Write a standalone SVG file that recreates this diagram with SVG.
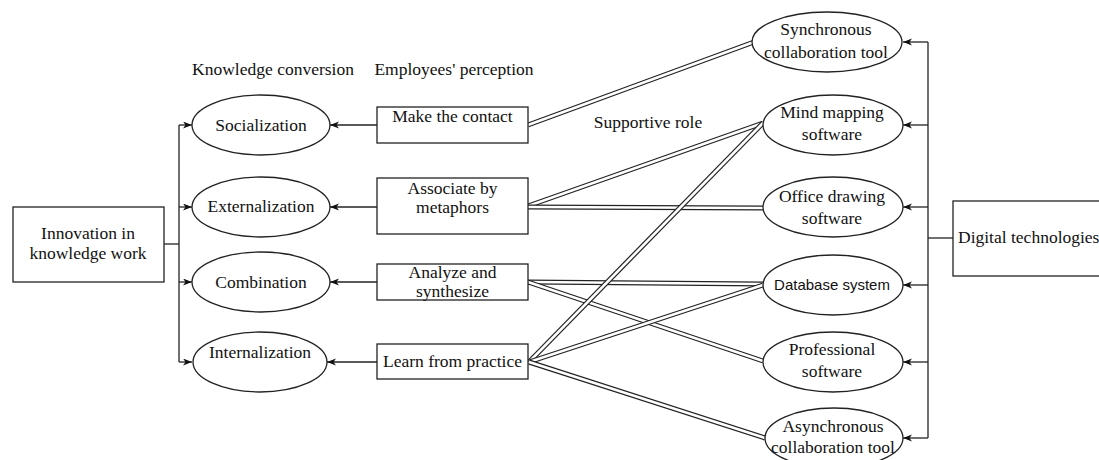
<svg xmlns="http://www.w3.org/2000/svg" width="1099" height="460" viewBox="0 0 1099 460">
<style>
.s{fill:#fff;stroke:#222;stroke-width:1.3}
.c{fill:none;stroke:#222;stroke-width:1.3}
.t{font-family:"Liberation Serif","Times New Roman",serif;font-size:17.5px;fill:#111;text-anchor:middle}
.ts{font-family:"Liberation Sans",Arial,sans-serif;font-size:15px;fill:#111;text-anchor:middle}
.dlo{fill:none;stroke:#222;stroke-width:5}
.dli{fill:none;stroke:#fff;stroke-width:2.6}
</style>
<defs>
<marker id="a" markerUnits="userSpaceOnUse" markerWidth="10" markerHeight="8" refX="9" refY="3.5" orient="auto">
<path d="M0,0 L9,3.5 L0,7 L2.5,3.5 Z" fill="#111"/>
</marker>
</defs>
<rect width="1099" height="460" fill="#fff"/>

<g id="labels">
<text class="t" x="273" y="75">Knowledge conversion</text>
<text class="t" x="454" y="75">Employees' perception</text>
<text class="t" x="648" y="128">Supportive role</text>
</g>

<g id="connectors">
<path class="c" d="M164,244 H179"/>
<path class="c" d="M179,125 V362"/>
<path class="c" d="M179,125 H192" marker-end="url(#a)"/>
<path class="c" d="M179,207 H192" marker-end="url(#a)"/>
<path class="c" d="M179,282 H192" marker-end="url(#a)"/>
<path class="c" d="M179,362 H192" marker-end="url(#a)"/>
<path class="c" d="M377,125 H330" marker-end="url(#a)"/>
<path class="c" d="M377,207 H330" marker-end="url(#a)"/>
<path class="c" d="M377,282 H330" marker-end="url(#a)"/>
<path class="c" d="M377,362 H327" marker-end="url(#a)"/>
<path class="c" d="M953,238 H928"/>
<path class="c" d="M928,42 V438"/>
<path class="c" d="M928,42 H903" marker-end="url(#a)"/>
<path class="c" d="M928,125 H903" marker-end="url(#a)"/>
<path class="c" d="M928,207 H903" marker-end="url(#a)"/>
<path class="c" d="M928,285 H903" marker-end="url(#a)"/>
<path class="c" d="M928,362 H903" marker-end="url(#a)"/>
<path class="c" d="M928,438 H903" marker-end="url(#a)"/>
<g id="links">
<path class="dlo" d="M528,125 L754,42"/><path class="dli" d="M528,125 L754,42"/>
<path class="dlo" d="M528,206 L763,123"/><path class="dli" d="M528,206 L763,123"/>
<path class="dlo" d="M528,207 L763,208"/><path class="dli" d="M528,207 L763,208"/>
<path class="dlo" d="M528,282 L763,284"/><path class="dli" d="M528,282 L763,284"/>
<path class="dlo" d="M528,282 L763,361"/><path class="dli" d="M528,282 L763,361"/>
<path class="dlo" d="M529,362 L763,123"/><path class="dli" d="M529,362 L763,123"/>
<path class="dlo" d="M529,362 L763,285"/><path class="dli" d="M529,362 L763,285"/>
<path class="dlo" d="M529,362 L765,438"/><path class="dli" d="M529,362 L765,438"/>
</g>
</g>

<g id="innovation">
<rect class="s" x="13" y="207" width="151" height="75"/>
<text class="t" x="88" y="239">Innovation in</text>
<text class="t" x="88" y="259">knowledge work</text>
</g>

<g id="socialization"><ellipse class="s" cx="261" cy="125" rx="69" ry="30"/><text class="t" x="261" y="131">Socialization</text></g>
<g id="externalization"><ellipse class="s" cx="261" cy="207" rx="69" ry="30"/><text class="t" x="261" y="212">Externalization</text></g>
<g id="combination"><ellipse class="s" cx="261" cy="282" rx="69" ry="30"/><text class="t" x="261" y="288">Combination</text></g>
<g id="internalization"><ellipse class="s" cx="260" cy="362" rx="67" ry="30"/><text class="t" x="260" y="358">Internalization</text></g>

<g id="make-contact"><rect class="s" x="377" y="107" width="151" height="36"/><text class="t" x="452.5" y="122">Make the contact</text></g>
<g id="associate"><rect class="s" x="377" y="178" width="151" height="56"/><text class="t" x="452.5" y="194">Associate by</text><text class="t" x="452.5" y="213">metaphors</text></g>
<g id="analyze"><rect class="s" x="377" y="264" width="151" height="36"/><text class="t" x="452.5" y="278">Analyze and</text><text class="t" x="452.5" y="297">synthesize</text></g>
<g id="learn"><rect class="s" x="377" y="344" width="151" height="35"/><text class="t" x="452.5" y="367">Learn from practice</text></g>

<g id="sync"><ellipse class="s" cx="827" cy="42" rx="75" ry="30"/><text class="t" x="826" y="35">Synchronous</text><text class="t" x="826" y="58">collaboration tool</text></g>
<g id="mindmap"><ellipse class="s" cx="833" cy="125" rx="70" ry="30"/><text class="t" x="832" y="118">Mind mapping</text><text class="t" x="832" y="140">software</text></g>
<g id="office"><ellipse class="s" cx="833" cy="207" rx="70" ry="30"/><text class="t" x="832" y="202">Office drawing</text><text class="t" x="832" y="224">software</text></g>
<g id="database"><ellipse class="s" cx="833" cy="285" rx="70" ry="30"/><text class="ts" x="832" y="290">Database system</text></g>
<g id="professional"><ellipse class="s" cx="833" cy="362" rx="70" ry="30"/><text class="t" x="832" y="355">Professional</text><text class="t" x="832" y="377">software</text></g>
<g id="async"><ellipse class="s" cx="834" cy="438" rx="69" ry="30"/><text class="t" x="833" y="432">Asynchronous</text><text class="t" x="833" y="453">collaboration tool</text></g>

<g id="digital"><rect class="s" x="953" y="201" width="160" height="75"/><text class="t" x="958" y="243" style="text-anchor:start">Digital technologies</text></g>
</svg>
